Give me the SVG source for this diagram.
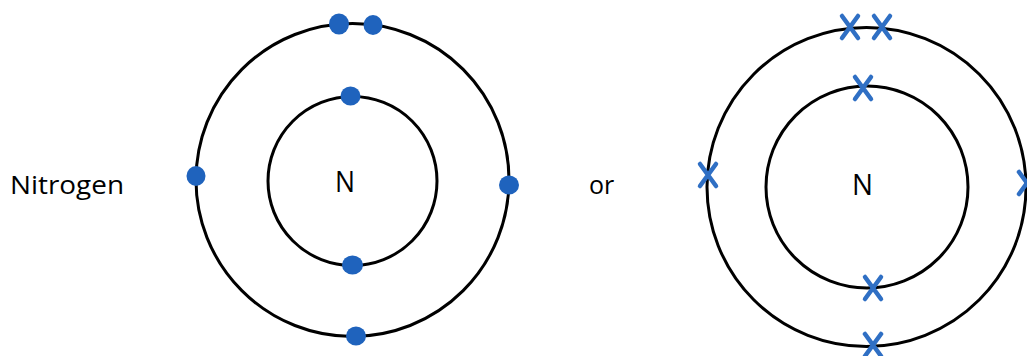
<svg xmlns="http://www.w3.org/2000/svg" width="1027" height="356" viewBox="0 0 1027 356">
<style>
.shell{fill:none;stroke:#000;stroke-width:3}
.dot{fill:#1f63bd}
.x{stroke:#2f6fc4;stroke-width:4.5;stroke-linecap:round;fill:none}
.lbl{font-family:"Open Sans","Liberation Sans",sans-serif;fill:#000}
.n{font-family:"Open Sans","Liberation Sans",sans-serif;font-size:29px;fill:#000}
</style>
<defs>
<path id="cross" d="M-8,-11 L8,11 M8,-11 L-8,11"/>
</defs>
<text class="lbl" x="10" y="194" font-size="25" textLength="114" lengthAdjust="spacingAndGlyphs">Nitrogen</text>
<text class="lbl" x="589" y="194" font-size="25">or</text>
<g id="atom-dots">
<circle class="shell" cx="352.5" cy="180" r="156.5"/>
<circle class="shell" cx="352.5" cy="181" r="84.5"/>
<text class="n" x="335" y="192" textLength="20" lengthAdjust="spacingAndGlyphs">N</text>
<ellipse class="dot" cx="339" cy="24" rx="10" ry="10.5"/>
<ellipse class="dot" cx="373" cy="25" rx="9.5" ry="10"/>
<ellipse class="dot" cx="350.5" cy="96" rx="10" ry="9.5"/>
<ellipse class="dot" cx="196" cy="176" rx="9.5" ry="10"/>
<ellipse class="dot" cx="509" cy="185" rx="10" ry="9.5"/>
<ellipse class="dot" cx="352.5" cy="265" rx="10.5" ry="9.5"/>
<ellipse class="dot" cx="356" cy="336" rx="10" ry="9.5"/>
</g>
<g id="atom-crosses">
<circle class="shell" cx="866.5" cy="187" r="159.5"/>
<circle class="shell" cx="867" cy="187" r="101"/>
<text class="n" x="852" y="195" textLength="21" lengthAdjust="spacingAndGlyphs">N</text>
<use class="x" href="#cross" x="850" y="27"/>
<use class="x" href="#cross" x="882" y="27"/>
<use class="x" href="#cross" x="863" y="88"/>
<use class="x" href="#cross" x="708" y="175"/>
<use class="x" href="#cross" x="1027" y="183"/>
<use class="x" href="#cross" x="873" y="288"/>
<use class="x" href="#cross" x="873" y="345"/>
</g>
</svg>
